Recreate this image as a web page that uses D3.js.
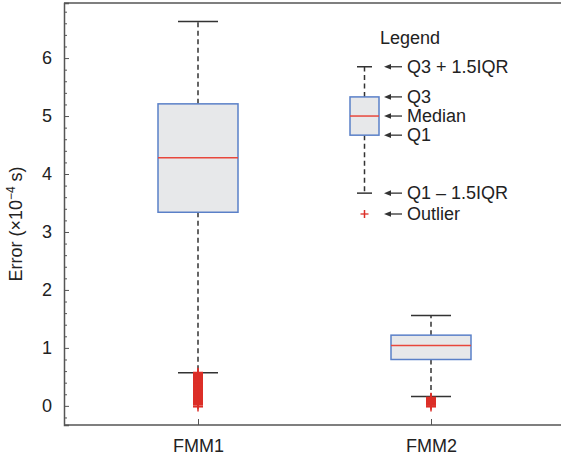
<!DOCTYPE html>
<html>
<head>
<meta charset="utf-8">
<script src="https://cdn.jsdelivr.net/npm/d3@7"></script>
<style>
  html, body { margin: 0; padding: 0; background: #fff; }
  svg { display: block; font-family: "Liberation Sans", Arial, sans-serif; }
</style>
</head>
<body>
<svg id="chart" width="561" height="459"></svg>
<script>
// ---- data ----
const categories = ["FMM1", "FMM2"];
const lowerWhisker = [0.57, 0.16];
const q1Values = [3.34, 0.80];
const medianValues = [4.28, 1.04];
const q3Values = [5.21, 1.22];
const upperWhisker = [6.63, 1.56];
const outliersFMM1 = [0.57, 0.56, 0.54, 0.52, 0.51, 0.49, 0.47, 0.46, 0.44, 0.42, 0.41, 0.39, 0.37, 0.36, 0.34, 0.32, 0.31, 0.29, 0.27, 0.26, 0.24, 0.22, 0.21, 0.19, 0.17, 0.16, 0.14, 0.12, 0.11, 0.09, 0.07, 0.06, 0.04, 0.03, -0.01];
const outliersFMM2 = [0.14, 0.13, 0.11, 0.10, 0.09, 0.07, 0.06, 0.05, 0.03, 0.02, -0.01];
const yTicks = [0, 1, 2, 3, 4, 5, 6];
const yMinorTicks = [-0.2, 0.2, 0.4, 0.6, 0.8, 1.2, 1.4, 1.6, 1.8, 2.2, 2.4, 2.6, 2.8, 3.2, 3.4, 3.6, 3.8, 4.2, 4.4, 4.6, 4.8, 5.2, 5.4, 5.6, 5.8, 6.2, 6.4, 6.6, 6.8];
// legend key (drawn in data units of the y axis)
const legendLabels = ["Q3 + 1.5IQR", "Q3", "Median", "Q1", "Q1 \u2013 1.5IQR", "Outlier"];
const legendValues = [5.85, 5.33, 5.00, 4.67, 3.67, 3.31];

// ---- layout ----
const svg = d3.select("#chart");
const mLeft = 64, mRight = 561, mTop = 3, mBottom = 425;
const y = d3.scaleLinear().domain([-0.33, 6.95]).range([mBottom, mTop]);
const x = d3.scalePoint().domain(categories).range([198, 431]);

const axisColor = "#555";
const textColor = "#222";
const boxStroke = "#5a80c8";
const boxFill = "#e7e8ea";
const medColor = "#e8473c";
const outColor = "#dc2f28";
const whiskColor = "#333";

// frame: top, bottom
svg.append("line").attr("x1", mLeft).attr("x2", mRight).attr("y1", mTop).attr("y2", mTop)
  .attr("stroke", axisColor).attr("stroke-width", 1.5);
svg.append("line").attr("x1", mLeft).attr("x2", mRight).attr("y1", mBottom).attr("y2", mBottom)
  .attr("stroke", axisColor).attr("stroke-width", 1.5);

// y axis
const yAxis = d3.axisLeft(y).tickValues(yTicks).tickSize(-5).tickPadding(12).tickFormat(d3.format("d"));
const yg = svg.append("g").attr("transform", `translate(${mLeft},0)`).call(yAxis);
yg.select(".domain").attr("stroke", axisColor).attr("stroke-width", 1.5);
yg.selectAll(".tick line").attr("stroke", axisColor);
yg.selectAll(".tick text").attr("font-size", 18).attr("fill", textColor).attr("font-family", "Liberation Sans, Arial, sans-serif");
const yMinor = d3.axisLeft(y).tickValues(yMinorTicks).tickSize(-3).tickFormat("");
const ym = svg.append("g").attr("transform", `translate(${mLeft},0)`).call(yMinor);
ym.select(".domain").remove();
ym.selectAll(".tick line").attr("stroke", axisColor);

// x axis
const xAxis = d3.axisBottom(x).tickSize(-6).tickPadding(14);
const xg = svg.append("g").attr("transform", `translate(0,${mBottom})`).call(xAxis);
xg.select(".domain").remove();
xg.selectAll(".tick line").attr("stroke", axisColor);
xg.selectAll(".tick text").attr("font-size", 18).attr("fill", textColor).attr("font-family", "Liberation Sans, Arial, sans-serif");

// y label
const yl = svg.append("text")
  .attr("transform", `translate(22,${(mTop + mBottom) / 2 + 10}) rotate(-90)`)
  .attr("text-anchor", "middle").attr("font-size", 18).attr("fill", textColor);
yl.append("tspan").text("Error (\u00d710");
yl.append("tspan").attr("font-size", 12).attr("dy", -7).text("\u22124");
yl.append("tspan").attr("dy", 7).text(" s)");

// boxes
function drawBox(g, cx, lw, q1, med, q3, uw, boxW, capW) {
  g.append("line").attr("x1", cx).attr("x2", cx).attr("y1", y(q3)).attr("y2", y(uw))
    .attr("stroke", whiskColor).attr("stroke-width", 1.5).attr("stroke-dasharray", "5,3.5");
  g.append("line").attr("x1", cx).attr("x2", cx).attr("y1", y(q1)).attr("y2", y(lw))
    .attr("stroke", whiskColor).attr("stroke-width", 1.5).attr("stroke-dasharray", "5,3.5");
  g.append("line").attr("x1", cx - capW / 2).attr("x2", cx + capW / 2).attr("y1", y(uw)).attr("y2", y(uw))
    .attr("stroke", whiskColor).attr("stroke-width", 1.5);
  g.append("line").attr("x1", cx - capW / 2).attr("x2", cx + capW / 2).attr("y1", y(lw)).attr("y2", y(lw))
    .attr("stroke", whiskColor).attr("stroke-width", 1.5);
  g.append("rect").attr("x", cx - boxW / 2).attr("y", y(q3)).attr("width", boxW).attr("height", y(q1) - y(q3))
    .attr("fill", boxFill).attr("stroke", boxStroke).attr("stroke-width", 1.5);
  g.append("line").attr("x1", cx - boxW / 2).attr("x2", cx + boxW / 2).attr("y1", y(med)).attr("y2", y(med))
    .attr("stroke", medColor).attr("stroke-width", 1.5);
}
function drawPlus(g, cx, vals, s, sw) {
  vals.forEach(v => {
    g.append("line").attr("x1", cx - s).attr("x2", cx + s).attr("y1", y(v)).attr("y2", y(v))
      .attr("stroke", outColor).attr("stroke-width", sw);
    g.append("line").attr("x1", cx).attr("x2", cx).attr("y1", y(v) - s).attr("y2", y(v) + s)
      .attr("stroke", outColor).attr("stroke-width", 1.5);
  });
}
const plot = svg.append("g");
categories.forEach((c, i) => {
  drawBox(plot, x(c), lowerWhisker[i], q1Values[i], medianValues[i], q3Values[i], upperWhisker[i], 80, 40);
});
drawPlus(plot, x("FMM1"), outliersFMM1, 5, 2.2);
drawPlus(plot, x("FMM2"), outliersFMM2, 5, 2.2);

// legend
const lg = svg.append("g");
const lx = 364.5;
lg.append("text").attr("x", 380).attr("y", 38).attr("dy", "0.35em").attr("font-size", 18)
  .attr("fill", textColor).text("Legend");
drawBox(lg, lx, legendValues[4], legendValues[3], legendValues[2], legendValues[1], legendValues[0], 29, 15);
drawPlus(lg, lx, [legendValues[5]], 4, 1.3);
legendLabels.forEach((t, i) => {
  const yy = y(legendValues[i]);
  lg.append("line").attr("x1", 389).attr("x2", 402).attr("y1", yy).attr("y2", yy)
    .attr("stroke", whiskColor).attr("stroke-width", 1.3);
  lg.append("path").attr("d", `M384,${yy} L391,${yy - 2.8} L391,${yy + 2.8} Z`).attr("fill", whiskColor);
  lg.append("text").attr("x", 407).attr("y", yy).attr("dy", "0.35em").attr("font-size", 18)
    .attr("fill", textColor).text(t);
});
</script>
</body>
</html>
